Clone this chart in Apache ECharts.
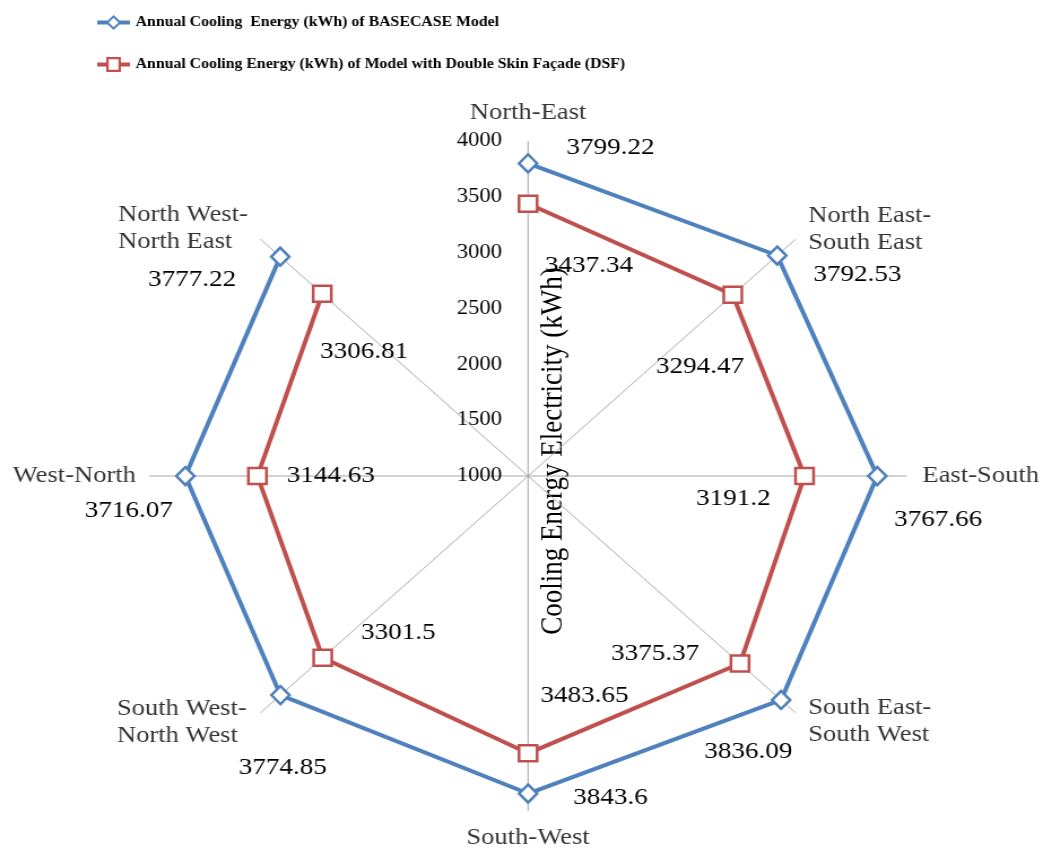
<!DOCTYPE html>
<html>
<head>
<meta charset="utf-8">
<title>Annual Cooling Energy radar</title>
<script src="https://cdn.jsdelivr.net/npm/echarts@6/dist/echarts.min.js"></script>
<style>
  html, body { margin: 0; padding: 0; background: #fff; }
  /* the source picture is stretched sideways, so the chart is drawn narrow and widened */
  #chart { width: 925px; height: 852px; transform: scaleX(1.13); transform-origin: 0 0; }
</style>
</head>
<body>
<div id="chart"></div>
<script>
const categories = [
  "North-East",
  "North East-\nSouth East",
  "East-South",
  "South East-\nSouth West",
  "South-West",
  "South West-\nNorth West",
  "West-North",
  "North West-\nNorth East",
];
const baseCase = [3799.22, 3792.53, 3767.66, 3836.09, 3843.6, 3774.85, 3716.07, 3777.22];
const dsfCase = [3437.34, 3294.47, 3191.2, 3375.37, 3483.65, 3301.5, 3144.63, 3306.81];
const radiusTicks = [1000, 1500, 2000, 2500, 3000, 3500, 4000];

const baseName = "Annual Cooling  Energy (kWh) of BASECASE Model";
const dsfName = "Annual Cooling Energy (kWh) of Model with Double Skin Façade (DSF)";
const axisTitle = "Cooling Energy Electricity (kWh)";

// label placement, as in the excel picture
const baseOffsets = [[73, -16], [71, 19], [54, 44], [-29, 52], [73, 4], [2, 73], [-50, 35], [-78, 23]];
const dsfOffsets = [[54, 62], [-29, 72], [-63, 23], [-75, -10], [50, -58], [67, -25], [65, 0], [37, 58]];
const nameOffsets = [[0, -28], [11, -10], [14, 0], [11, 8], [0, 27], [-127, 9], [-12, 0], [-126, -11]];
const nameAlign = ["center", "left", "left", "left", "center", "left", "right", "left"];

const blue = "#4F81BD";
const red = "#C0504D";
const serif = '"Liberation Serif", "Times New Roman", serif';

var chartDom = document.getElementById("chart");
var chart = echarts.init(chartDom);

function lineData(values, offsets) {
  var data = [];
  for (var i = 0; i < values.length; i++) {
    data.push({ value: [values[i], i], label: { offset: offsets[i] } });
  }
  // close the ring
  data.push({ value: [values[0], 0], symbol: "none", label: { show: false } });
  return data;
}

var nameData = [];
for (var i = 0; i < categories.length; i++) {
  nameData.push({
    value: [radiusTicks[radiusTicks.length - 1], i],
    label: { offset: nameOffsets[i], align: nameAlign[i] },
  });
}

var option = {
  animation: false,
  legend: {
    orient: "vertical",
    left: 81,
    top: 10,
    itemGap: 27,
    itemWidth: 29,
    itemHeight: 15,
    selectedMode: false,
    textStyle: { fontFamily: serif, fontWeight: "bold", fontSize: 14, color: "#000" },
    data: [
      {
        name: baseName,
        icon: "path://M0 5.5H9.5V9.5H0ZM19.5 5.5H29V9.5H19.5ZM14.5 0L21.5 7.5L14.5 15L7.5 7.5ZM14.5 2.8L10.2 7.5L14.5 12.2L18.8 7.5Z",
        itemStyle: { color: blue, borderWidth: 0 },
      },
      {
        name: dsfName,
        icon: "path://M0 5.5H8V9.5H0ZM21 5.5H29V9.5H21ZM8 0H21V15H8ZM10.2 2.2V12.8H18.8V2.2Z",
        itemStyle: { color: red, borderWidth: 0 },
      },
    ],
  },
  polar: {
    center: [467.3, 476],
    radius: 335,
  },
  angleAxis: {
    type: "category",
    data: categories,
    boundaryGap: false,
    startAngle: 90,
    clockwise: true,
    axisLine: { show: false },
    axisTick: { show: false },
    axisLabel: { show: false },
    splitLine: { show: true, lineStyle: { color: "#A6A6A6", width: 1 } },
  },
  radiusAxis: {
    type: "value",
    min: radiusTicks[0],
    max: radiusTicks[radiusTicks.length - 1],
    interval: radiusTicks[1] - radiusTicks[0],
    axisLine: { show: false },
    axisTick: { show: false },
    splitLine: { show: false },
    axisLabel: {
      margin: 23,
      fontFamily: serif,
      fontSize: 20,
      color: "#000",
      formatter: function (v) {
        return String(v);
      },
    },
  },
  graphic: [
    {
      type: "text",
      x: 490,
      y: 451,
      rotation: Math.PI / 2,
      style: {
        text: axisTitle,
        fontFamily: serif,
        fontSize: 27,
        fill: "#000",
        align: "center",
        verticalAlign: "middle",
      },
    },
  ],
  series: [
    {
      name: baseName,
      type: "line",
      coordinateSystem: "polar",
      data: lineData(baseCase, baseOffsets),
      symbol: "diamond",
      symbolSize: [16, 18],
      lineStyle: { color: blue, width: 4 },
      itemStyle: { color: "#fff", borderColor: blue, borderWidth: 2.5 },
      label: {
        show: true,
        position: "inside",
        fontFamily: serif,
        fontSize: 24,
        color: "#000",
        formatter: function (p) {
          return String(p.value[0]);
        },
      },
      z: 3,
    },
    {
      name: dsfName,
      type: "line",
      coordinateSystem: "polar",
      data: lineData(dsfCase, dsfOffsets),
      symbol: "rect",
      symbolSize: [16, 16],
      lineStyle: { color: red, width: 4 },
      itemStyle: { color: "#fff", borderColor: red, borderWidth: 2.5 },
      label: {
        show: true,
        position: "inside",
        fontFamily: serif,
        fontSize: 24,
        color: "#000",
        formatter: function (p) {
          return String(p.value[0]);
        },
      },
      z: 3,
    },
    {
      // category names around the rim
      name: "names",
      type: "scatter",
      coordinateSystem: "polar",
      data: nameData,
      symbolSize: 0,
      silent: true,
      label: {
        show: true,
        position: "inside",
        verticalAlign: "middle",
        fontFamily: serif,
        fontSize: 23.5,
        lineHeight: 27,
        color: "#000",
        formatter: function (p) {
          return categories[p.dataIndex];
        },
      },
    },
  ],
};

chart.setOption(option);
</script>
</body>
</html>
